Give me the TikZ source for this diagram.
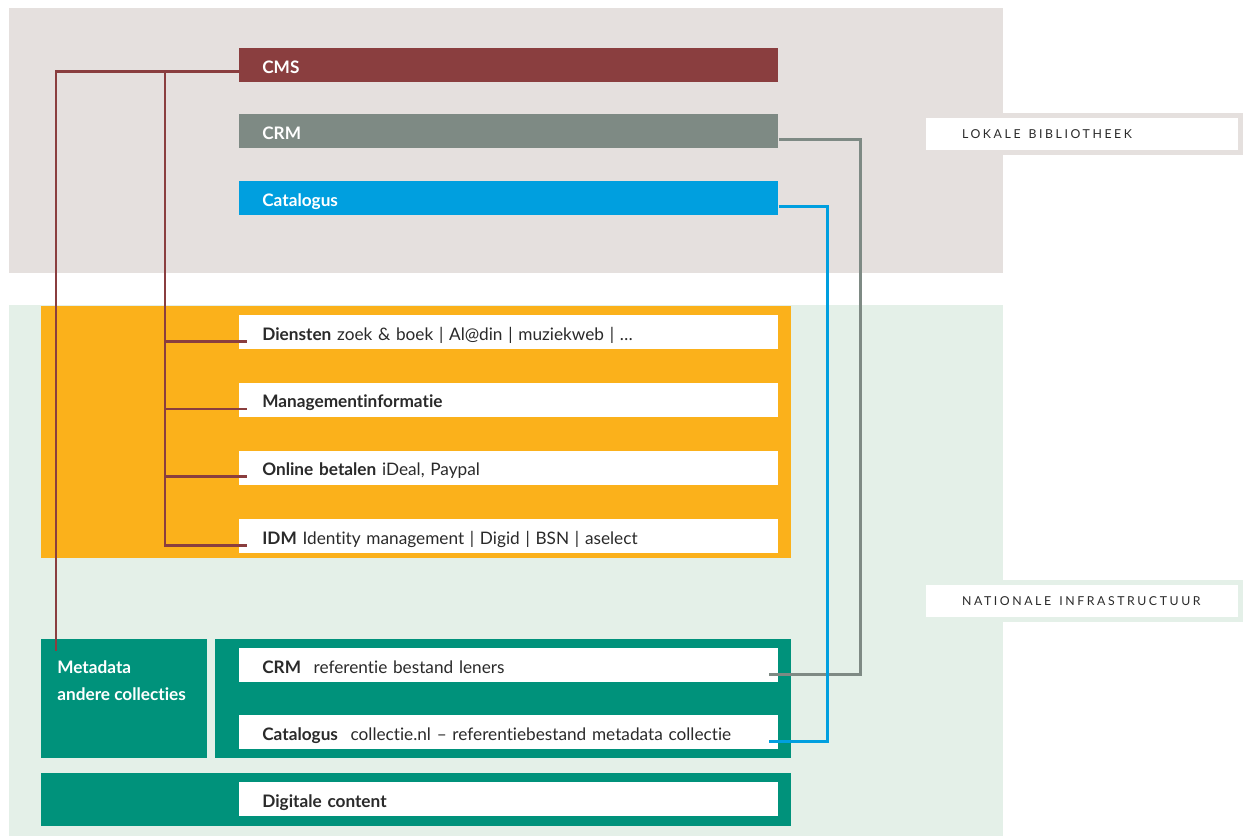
\documentclass[tikz,border=0pt]{standalone}
\usepackage{fontspec}
\setmainfont{Lato}[Ligatures=NoCommon]
\usetikzlibrary{positioning}
\definecolor{lokgrijs}{HTML}{E5E0DE}
\definecolor{natgroen}{HTML}{E4F0E8}
\definecolor{cmsrood}{HTML}{8A3E3F}
\definecolor{crmgrijs}{HTML}{7E8A84}
\definecolor{catblauw}{HTML}{009FDF}
\definecolor{oranje}{HTML}{FBB11B}
\definecolor{petrol}{HTML}{00927B}
\definecolor{tekst}{HTML}{2A2A2A}
\newcommand{\regiospatie}{\hspace{0.65em}}
\begin{document}
\begin{tikzpicture}[x=0.02cm,y=-0.02cm,font=\fontsize{9.8}{12}\selectfont,
  balk/.style={anchor=north west,minimum height=0.68cm,text width=9.86cm,text height=9pt,text depth=0pt,inner xsep=0.46cm,inner ysep=0pt,align=left,text=white,font=\fontsize{9.8}{12}\selectfont\bfseries},
  wit/.style={balk,fill=white,text=tekst,font=\fontsize{9.8}{12}\selectfont},
  regio/.style={fill=white,line width=0.1cm,minimum width=6.34cm,minimum height=0.74cm,text width=4.8cm,inner xsep=0.77cm,align=left,text=tekst,font=\fontsize{7}{8}\selectfont\addfontfeature{LetterSpace=21}},
  lijn/.style={line width=1.6pt}]
  \useasboundingbox (0,0) rectangle (1248,836);
  % achtergronden
  \fill[lokgrijs] (9,8) rectangle (1003,273);
  \fill[natgroen] (9,305) rectangle (1003,836);
  \fill[oranje] (41,306) rectangle (791,558);
  \node[draw=lokgrijs,regio] (lokaal) at (1082,134) {LOKALE\regiospatie BIBLIOTHEEK};
  \node[draw=natgroen,regio] (nationaal) at (1082,601) {NATIONALE\regiospatie INFRASTRUCTUUR};
  % lokale bibliotheek
  \node[balk,fill=cmsrood] (cms) at (239,48) {CMS};
  \node[balk,fill=crmgrijs] (crm) at (239,114) {CRM};
  \node[balk,fill=catblauw] (cat) at (239,181) {Catalogus};
  % diensten
  \node[wit] (dienst) at (239,315) {\textbf{Diensten} zoek \& boek | Al@din | muziekweb | \dots};
  \node[wit,below=0.66cm of dienst] (mgmt) {\textbf{Managementinformatie}};
  \node[wit,below=0.66cm of mgmt] (betalen) {\textbf{Online betalen} iDeal, Paypal};
  \node[wit,below=0.68cm of betalen] (idm) {\textbf{IDM} Identity management | Digid | BSN | aselect};
  % nationale infrastructuur
  \node[fill=petrol,anchor=north west,minimum width=3.32cm,minimum height=2.38cm] (meta) at (41,639) {};
  \node[anchor=north west,inner sep=0pt,align=left,text=white,font=\fontsize{9.8}{15.3}\selectfont\bfseries] (metatekst) at (57,660) {Metadata\\andere collecties};
  \node[fill=petrol,anchor=north west,minimum width=11.52cm,minimum height=2.38cm] (ref) at (215,639) {};
  \node[wit] (ncrm) at (239,648) {\textbf{CRM}\hspace{0.4em} referentie bestand leners};
  \node[wit] (ncat) at (239,715) {\textbf{Catalogus}\hspace{0.4em} collectie.nl -- referentiebestand metadata collectie};
  \node[fill=petrol,anchor=north west,minimum width=15cm,minimum height=1.06cm] (content) at (41,773) {};
  \node[wit] (digitaal) at (239,782) {\textbf{Digitale content}};
  % verbindingen
  \coordinate (metaeind) at (56,651);
  \coordinate (tak) at (165,71);
  \draw[lijn,cmsrood] ([yshift=-0.12cm]cms.west) -| (metaeind);
  \foreach \d in {dienst,mgmt,betalen,idm}
    \draw[lijn,cmsrood] (tak) |- ([xshift=0.16cm,yshift=-0.18cm]\d.west);
  \draw[lijn,crmgrijs] ([yshift=-0.16cm]crm.east) -- ++(82,0) |- ([xshift=-0.2cm,yshift=-0.18cm]ncrm.east);
  \draw[lijn,catblauw] ([yshift=-0.16cm]cat.east) -- ++(49,0) |- ([xshift=-0.2cm,yshift=-0.18cm]ncat.east);
\end{tikzpicture}
\end{document}
